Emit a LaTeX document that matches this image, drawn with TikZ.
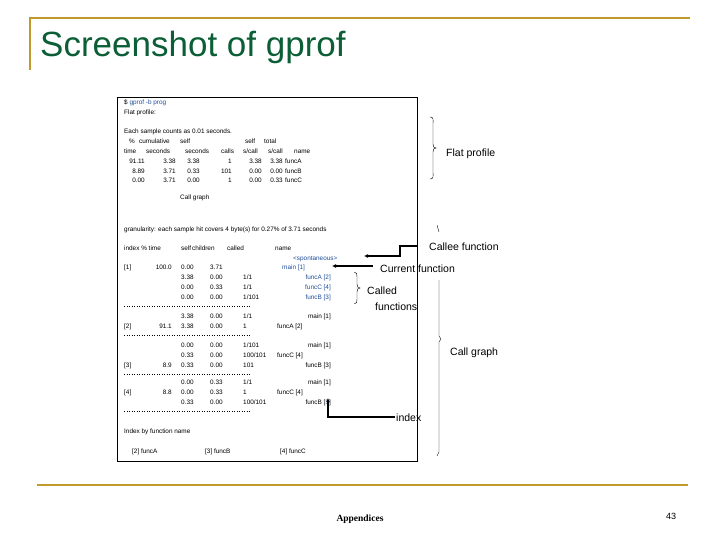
\documentclass[tikz,border=0pt]{standalone}
\usepackage{fontspec}
\usetikzlibrary{arrows.meta}
\setmainfont{Liberation Sans}
\newfontfamily\serifb{Liberation Serif}
\definecolor{gold}{HTML}{C09A2A}
\definecolor{tgreen}{HTML}{0B5E36}
\definecolor{lblue}{HTML}{1F4E99}
\begin{document}
\begin{tikzpicture}[x=1pt,y=-1pt,
 t/.style={anchor=base west,inner sep=0pt,font=\fontsize{6.4}{7}\selectfont},
 tr/.style={anchor=base east,inner sep=0pt,font=\fontsize{6.4}{7}\selectfont},
 lab/.style={anchor=base west,inner sep=0pt,font=\fontsize{10.5}{12}\selectfont},
 bl/.style={text=lblue},
 dots/.style={dotted,line width=0.5pt},
 arr/.style={line width=1.2pt,-{Latex[length=4pt,width=4pt]}}]
\useasboundingbox (0,0) rectangle (720,540);
% title frame
\draw[gold,line width=2.5pt] (30,70) -- (30,18) -- (690,18);
\node[anchor=base west,inner sep=0,text=tgreen,font=\fontsize{35}{40}\selectfont] (title) at (40,57) {Screenshot of gprof};
\draw[gold,line width=1.5pt] (37,485) -- (688,485);
\node[anchor=base,inner sep=0,font=\serifb\bfseries\fontsize{9.5}{10}\selectfont] (app) at (360,521) {Appendices};
\node[anchor=base,inner sep=0,font=\fontsize{9}{10}\selectfont] (pg) at (671,519) {43};
% box
\draw[line width=0.8pt] (117,97) rectangle (417,461);
\node[t] at (124,105) {\$ \textcolor{lblue}{gprof -b prog}};
\node[t] at (124,115) {Flat profile:};
\node[t] at (124,134) {Each sample counts as 0.01 seconds.};
\node[t] at (129,144) {\%};
\node[t] at (139,144) {cumulative};
\node[t] at (180,144) {self};
\node[t] at (245,144) {self};
\node[t] at (264,144) {total};
\foreach \x/\s in {124/time,146/seconds,185/seconds,221/calls,243/s\slash call,268/s\slash call,294/name}
  \node[t] at (\x,154) {\s};
\foreach \y/\a/\b/\c/\d/\e/\f/\g in {164/91.11/3.38/3.38/1/3.38/3.38/funcA,174/8.89/3.71/0.33/101/0.00/0.00/funcB,183/0.00/3.71/0.00/1/0.00/0.33/funcC}{
  \node[tr] at (145,\y) {\a};
  \node[tr] at (176,\y) {\b};
  \node[tr] at (200,\y) {\c};
  \node[tr] at (232,\y) {\d};
  \node[tr] at (262,\y) {\e};
  \node[tr] at (283,\y) {\f};
  \node[t] at (285,\y) {\g};}
\node[t] at (180,200) {Call graph};
\node[t] at (124,232) {granularity: each sample hit covers 4 byte(s) for 0.27\% of 3.71 seconds};
\foreach \x/\s in {124/index \% time,181/self,192/children,227/called,275/name}
  \node[t] at (\x,250) {\s};
\node[t,bl] at (293,260) {<spontaneous>};
% block 1
\node[t] at (124,269) {[1]};
\node[tr] at (172,269) {100.0};
\node[t] at (181,269) {0.00};
\node[t] at (210,269) {3.71};
\node[t,bl] (main1) at (282,269) {main [1]};
\foreach \y/\a/\b/\c/\n in {279/3.38/0.00/1\slash 1/funcA [2],289/0.00/0.33/1\slash 1/funcC [4],299/0.00/0.00/1\slash 101/funcB [3]}{
  \node[t] at (181,\y) {\a}; \node[t] at (210,\y) {\b}; \node[t] at (243,\y) {\c};
  \node[tr,bl] at (331,\y) {\n};}
\draw[dots] (124,306) -- (250,306);
% block 2
\node[t] at (181,318) {3.38}; \node[t] at (210,318) {0.00}; \node[t] at (243,318) {1/1}; \node[tr] at (331,318) {main [1]};
\node[t] at (124,328) {[2]}; \node[tr] at (172,328) {91.1}; \node[t] at (181,328) {3.38}; \node[t] at (210,328) {0.00}; \node[t] at (243,328) {1}; \node[t] at (277,328) {funcA [2]};
\draw[dots] (124,335) -- (250,335);
% block 3
\node[t] at (181,347) {0.00}; \node[t] at (210,347) {0.00}; \node[t] at (243,347) {1/101}; \node[tr] at (331,347) {main [1]};
\node[t] at (181,357) {0.33}; \node[t] at (210,357) {0.00}; \node[t] at (243,357) {100/101}; \node[t] at (277,357) {funcC [4]};
\node[t] at (124,367) {[3]}; \node[tr] at (172,367) {8.9}; \node[t] at (181,367) {0.33}; \node[t] at (210,367) {0.00}; \node[t] at (243,367) {101}; \node[tr] at (331,367) {funcB [3]};
\draw[dots] (124,374) -- (250,374);
% block 4
\node[t] at (181,384) {0.00}; \node[t] at (210,384) {0.33}; \node[t] at (243,384) {1/1}; \node[tr] at (331,384) {main [1]};
\node[t] at (124,394) {[4]}; \node[tr] at (172,394) {8.8}; \node[t] at (181,394) {0.00}; \node[t] at (210,394) {0.33}; \node[t] at (243,394) {1}; \node[t] at (277,394) {funcC [4]};
\node[t] at (181,404) {0.33}; \node[t] at (210,404) {0.00}; \node[t] at (243,404) {100/101}; \node[tr] (fb) at (331,404) {funcB [\textcolor{lblue}{3}]};
\draw[dots] (124,411) -- (250,411);
\node[t] at (124,433) {Index by function name};
\node[t] at (132,453) {[2] funcA};
\node[t] at (205,453) {[3] funcB};
\node[t] at (280,453) {[4] funcC};
% annotations
\draw (430,117) .. controls (434,117) and (433,120) .. (433,124) -- (433,144) .. controls (433,147) and (434,148) .. (436,148) .. controls (434,148) and (433,149) .. (433,152) -- (433,172) .. controls (433,176) and (434,179) .. (430,179);
\node[lab] (flat) at (446,157) {Flat profile};
\draw (437,225) -- (439,232);
\node[lab] (callee) at (429,250) {Callee function};
\coordinate (c1) at (418,246);
\draw[arr] (c1) -- (400,246) -- (400,256) -- (364,256);
\node[lab] (cur) at (380,272) {Current function};
\draw[arr] (373,266) -- (332,266);
\draw (354,272) .. controls (357,272) and (357,274) .. (357,277) -- (357,284) .. controls (357,287) and (358,288) .. (360,288) .. controls (358,288) and (357,289) .. (357,292) -- (357,299) .. controls (357,302) and (357,304) .. (354,304);
\node[lab] (called1) at (367,294) {Called};
\node[lab] (called2) at (375,310) {functions};
\draw (439,280) -- (439,336) -- (441,339) -- (439,342) -- (439,452) -- (437,456);
\node[lab] (cg) at (450,355) {Call graph};
\node[lab] (idx) at (396,421) {index};
\draw[arr] (395,417) -- (328,417) -- (328,398);
\end{tikzpicture}
\end{document}
